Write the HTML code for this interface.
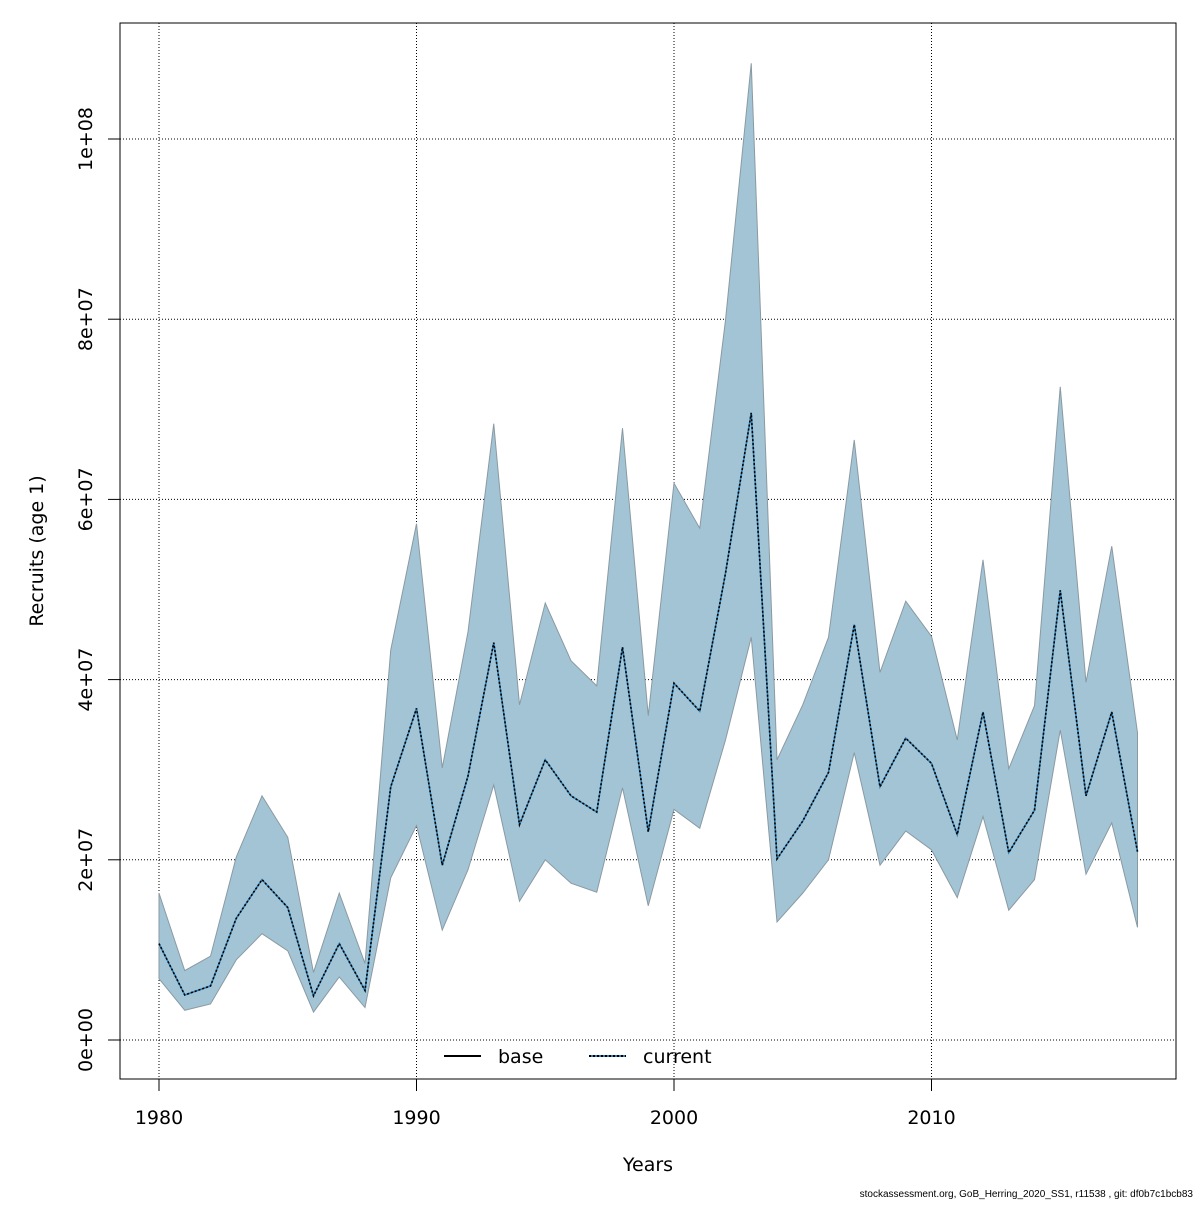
<!DOCTYPE html>
<html><head><meta charset="utf-8"><style>
body{margin:0;background:#fff}
svg text{font-family:"DejaVu Sans","Liberation Sans",sans-serif;fill:#000}
svg text.foot{font-family:"Liberation Sans","DejaVu Sans",sans-serif}
</style></head><body>
<svg id="chart" width="1200" height="1200" xmlns="http://www.w3.org/2000/svg">
<rect x="0" y="0" width="1200" height="1200" fill="#fff"/>
<g id="grid"></g>
<g id="band"></g>
<g id="lines"></g>
<rect x="120" y="23" width="1056" height="1056" fill="none" stroke="#000" stroke-width="1"/>
<g id="axes"></g>
<text x="648" y="1171" font-size="19" text-anchor="middle">Years</text>
<text transform="translate(43,551) rotate(-90)" font-size="19" text-anchor="middle">Recruits (age 1)</text>
<g>
<line x1="444" y1="1056" x2="481" y2="1056" stroke="#000" stroke-width="2"/>
<text x="498" y="1063" font-size="19">base</text>
<line x1="589" y1="1056" x2="626" y2="1056" stroke="#2a7fb8" stroke-width="2"/>
<line x1="589" y1="1056" x2="626" y2="1056" stroke="#000" stroke-width="2" stroke-dasharray="2,2"/>
<text x="643" y="1063" font-size="19">current</text>
</g>
<text class="foot" x="1193" y="1197" font-size="10" text-anchor="end">stockassessment.org, GoB_Herring_2020_SS1, r11538 , git: df0b7c1bcb83</text>
</svg>
<script>
const years=[];for(let y=1980;y<=2018;y++)years.push(y);
const upper=[16.3,7.7,9.3,20.3,27.1,22.5,7.5,16.3,8.5,43.3,57.3,30.2,45.3,68.4,37.2,48.5,42.1,39.3,67.9,36,61.8,56.8,79.9,108.4,31.1,37.2,44.7,66.6,40.8,48.7,44.8,33.3,53.3,30.1,37.1,72.5,39.7,54.8,34.1];
const mid=[10.7,5.0,6.0,13.5,17.8,14.7,4.9,10.7,5.5,28.1,36.8,19.4,29.3,44.1,23.9,31.1,27.1,25.3,43.6,23.1,39.6,36.5,51.8,69.6,20.1,24.3,29.7,46.1,28.1,33.5,30.7,22.8,36.4,20.8,25.5,49.9,27.1,36.4,20.9];
const lower=[6.8,3.3,4.0,8.9,11.8,9.9,3.1,7.0,3.6,18.0,23.8,12.2,18.9,28.3,15.4,20.0,17.4,16.4,28.0,14.9,25.6,23.5,33.3,44.7,13.1,16.3,20.0,31.9,19.4,23.2,21.1,15.8,24.8,14.4,17.8,34.4,18.4,24.1,12.5];
const xTicks=[1980,1990,2000,2010];
const yTicks=[0,20,40,60,80,100];
const yTickLabels=["0e+00","2e+07","4e+07","6e+07","8e+07","1e+08"];
const NS="http://www.w3.org/2000/svg";
const xs=v=>159+(v-1980)*25.75;
const ys=v=>1040-v*9.01;
function mk(tag,attrs,parent){const e=document.createElementNS(NS,tag);for(const k in attrs)e.setAttribute(k,attrs[k]);document.getElementById(parent).appendChild(e);return e;}
xTicks.forEach(t=>{
 const g=mk('line',{x1:xs(t),x2:xs(t),y1:23,y2:1079,stroke:'#000','stroke-width':1,'stroke-dasharray':'1,2'},'grid');
 
 
 const tk=mk('line',{x1:xs(t),x2:xs(t),y1:1079,y2:1091,stroke:'#000'},'axes');
 
 
 const tx=mk('text',{x:xs(t),y:1124,'font-size':19,'text-anchor':'middle'},'axes');tx.textContent=t;
 
 
});
yTicks.forEach((t,i)=>{
 const g=mk('line',{x1:120,x2:1176,y1:ys(t),y2:ys(t),stroke:'#000','stroke-width':1,'stroke-dasharray':'1,2'},'grid');
 
 
 const tk=mk('line',{x1:108,x2:120,y1:ys(t),y2:ys(t),stroke:'#000'},'axes');
 
 
 const tx=mk('text',{transform:`translate(92,${ys(t)}) rotate(-90)`,'font-size':19,'text-anchor':'middle'},'axes');tx.textContent=yTickLabels[i];
 
 
});
let pts=years.map((y,i)=>xs(y)+','+ys(upper[i]));
for(let i=years.length-1;i>=0;i--)pts.push(xs(years[i])+','+ys(lower[i]));
const band=mk('polygon',{points:pts.join(' '),fill:'#a3c4d5',stroke:'#8a9aa2','stroke-width':1},'band');


const mp=years.map((y,i)=>xs(y)+','+ys(mid[i])).join(' ');
const l1=mk('polyline',{points:mp,fill:'none',stroke:'#2a7fb8','stroke-width':1.6},'lines');


const l2=mk('polyline',{points:mp,fill:'none',stroke:'#000','stroke-width':1.6,'stroke-dasharray':'2,2'},'lines');


</script>
</body></html>
